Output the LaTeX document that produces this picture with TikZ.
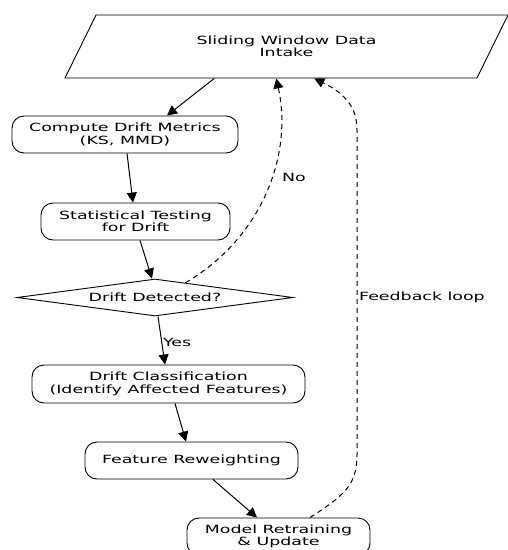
\documentclass[tikz,border=0pt]{standalone}
\usepackage{fontspec}
\setmainfont{DejaVu Sans}[FakeStretch=1.54]
\usetikzlibrary{shapes.geometric, arrows.meta, positioning, calc}

\begin{document}
\begin{tikzpicture}[
    x=1pt, y=-1pt,
    font=\fontsize{11.3}{12.5}\selectfont,
    box/.style={draw, line width=0.9pt, rounded corners=12pt, align=center, inner sep=0pt, minimum height=37pt},
    datain/.style={draw, line width=0.9pt, trapezium, trapezium left angle=34.4, trapezium right angle=145.6,
        trapezium stretches body, align=center, inner sep=0pt, minimum width=443pt, minimum height=63pt},
    decide/.style={draw, line width=0.9pt, diamond, aspect=7.5, inner sep=0pt, minimum width=276pt, minimum height=37pt},
    fl/.style={-{Triangle[length=10pt, width=10pt]}, line width=1pt},
    back/.style={-{Triangle[length=10pt, width=10pt]}, line width=1pt, dash pattern=on 5pt off 4pt},
    lbl/.style={anchor=west, inner sep=0pt}
]
\useasboundingbox (0,0) rectangle (508,550);
\clip (0,0) rectangle (508,550);

% ===== NODI =====
\node[datain] (INTAKE) at (286.5,46.5) {Sliding Window Data\\Intake};
\node[box, minimum width=226pt] (METRICS) at (125,134.5) {Compute Drift Metrics\\(KS, MMD)};
\node[box, minimum width=189pt] (TEST) at (135.5,221.5) {Statistical Testing\\for Drift};
\node[decide] (DETECT) at (155,297.5) {Drift Detected?};
\node[box, minimum width=273pt, minimum height=38pt] (CLASS) at (168.5,384) {Drift Classification\\(Identify Affected Features)};
\node[box, minimum width=213pt] (REW) at (191.5,460.5) {Feature Reweighting};
\node[box, minimum width=183pt] (RETRAIN) at (278.5,536.5) {Model Retraining\\\& Update};

% ===== FLUSSO PRINCIPALE =====
\draw[fl] ([xshift=-56.5pt]INTAKE.bottom side) -- ([xshift=42pt]METRICS.north);
\draw[fl] ([xshift=2pt]METRICS.south) -- ([xshift=-2.5pt]TEST.north);
\draw[fl] ([xshift=4.5pt]TEST.south) -- ([xshift=-3pt]DETECT.north);
\draw[fl] ([xshift=3pt]DETECT.south) -- node[lbl, pos=0.5, xshift=1pt, yshift=-2pt] {Yes} ([xshift=-3.5pt]CLASS.north);
\draw[fl] ([xshift=6.5pt]CLASS.south) -- ([xshift=-5.5pt]REW.north);
\draw[fl] ([xshift=21.5pt]REW.south) -- ([xshift=-21.5pt]RETRAIN.north);

% ===== RITORNI (tratteggiati) =====
\coordinate (NOSTART) at ($(DETECT.north)!0.22!(DETECT.east)$);
\draw[back] (NOSTART) .. controls (262,238) and (293,155) .. ([xshift=5.5pt]INTAKE.bottom side);
\node[lbl] (NO) at (282,177) {No};
\draw[back] ([xshift=31.5pt]RETRAIN.north) .. controls (343,496) and (357,486) .. (357,455)
    -- (357,130) .. controls (357,108) and (346,94) .. ([xshift=43.5pt]INTAKE.bottom side);
\node[lbl] (FB) at (359,297) {Feedback loop};

\end{tikzpicture}
\end{document}
